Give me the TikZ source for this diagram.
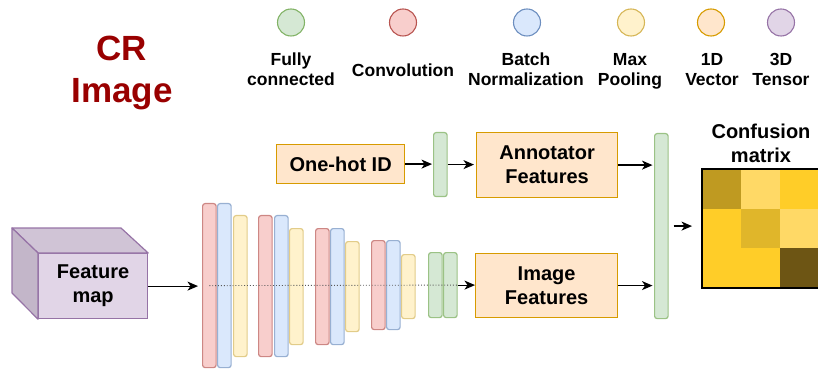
\documentclass[tikz,border=0pt]{standalone}
\usepackage{fontspec}
\setmainfont{Liberation Sans}
\usetikzlibrary{arrows.meta}

% layer palette
\definecolor{fcF}{HTML}{D5E8D4}\definecolor{fcS}{HTML}{82B366}
\definecolor{cvF}{HTML}{F8CECC}\definecolor{cvS}{HTML}{B85450}
\definecolor{bnF}{HTML}{DAE8FC}\definecolor{bnS}{HTML}{6C8EBF}
\definecolor{mpF}{HTML}{FFF2CC}\definecolor{mpS}{HTML}{D6B656}
\definecolor{vecF}{HTML}{FFE6CC}\definecolor{vecS}{HTML}{D79B00}
\definecolor{tenF}{HTML}{E1D5E7}\definecolor{tenS}{HTML}{9673A6}
\definecolor{tenTop}{HTML}{D0C4D6}\definecolor{tenSide}{HTML}{C3B6C9}
\definecolor{titleRed}{HTML}{990000}
% confusion matrix shades
\definecolor{cmA}{HTML}{BF9A21}
\definecolor{cmB}{HTML}{FFD966}
\definecolor{cmC}{HTML}{FFCD28}
\definecolor{cmD}{HTML}{E0B62A}
\definecolor{cmE}{HTML}{6D5514}

\tikzset{
  legdot/.style={circle, line width=1.1pt, minimum size=27pt, inner sep=0pt},
  legtxt/.style={font=\fontsize{17.5}{20}\selectfont\bfseries, align=center, inner sep=0pt},
  boxfont/.style={font=\fontsize{20}{24}\selectfont\bfseries, align=center},
  lay/.style={rounded corners=2.5pt, line width=1.2pt, inner sep=0pt,
              anchor=north west, minimum width=13.5pt},
  cvlay/.style={lay, fill=cvF, draw=cvS!70!white, minimum height=#1pt},
  bnlay/.style={lay, fill=bnF, draw=bnS!70!white, minimum height=#1pt},
  mplay/.style={lay, fill=mpF, draw=mpS!70!white, minimum height=#1pt},
  fclay/.style={lay, fill=fcF, draw=fcS!80!white, minimum height=#1pt},
  vecbox/.style={boxfont, draw=vecS, fill=vecF, line width=1.2pt, inner sep=0pt,
                 anchor=north west},
  conn/.style={line width=1.2pt, -{Stealth[length=10.5pt, width=9pt, inset=3pt]}},
}

\begin{document}
\begin{tikzpicture}[x=1pt, y=-1pt]
\useasboundingbox (0,0) rectangle (818,371);

% title
\node[font=\fontsize{35}{42}\selectfont\bfseries, text=titleRed, align=center, inner sep=0pt]
  (title) at (122,73.2) {CR\\Image};

% legend
\node[legdot, draw=fcS, fill=fcF]   (lfc) at (291,22.5) {};
\node[legdot, draw=cvS, fill=cvF]   (lcv) at (403,22.5) {};
\node[legdot, draw=bnS, fill=bnF]   (lbn) at (527,22.5) {};
\node[legdot, draw=mpS, fill=mpF]   (lmp) at (631,22.5) {};
\node[legdot, draw=vecS, fill=vecF] (lvec) at (711,22.5) {};
\node[legdot, draw=tenS, fill=tenF] (lten) at (781,22.5) {};
\node[legtxt] (tfc)  at (291,69.5) {Fully\\connected};
\node[legtxt] (tcv)  at (403,70.3) {Convolution};
\node[legtxt] (tbn)  at (526,69.5) {Batch\\Normalization};
\node[legtxt] (tmp)  at (630,71.3) {Max\\Pooling};
\node[legtxt] (tvec) at (712,69.5) {1D\\Vector};
\node[legtxt] (tten) at (781,69.5) {3D\\Tensor};

% feature map cube
\node[boxfont, draw=tenS, fill=tenF, line width=1.2pt, inner sep=0pt, anchor=north west,
      minimum width=109pt, minimum height=65pt] (fmap) at (38,253) {Feature\\map};
\filldraw[fill=tenTop, draw=tenS, line width=1.2pt, line join=round]
  (fmap.north west) -- ++(-26,-25) -- ++(109,0) -- (fmap.north east) -- cycle;
\filldraw[fill=tenSide, draw=tenS, line width=1.2pt, line join=round]
  (fmap.north west) -- ++(-26,-25) -- ++(0,65) -- (fmap.south west) -- cycle;

% convolutional stack
\node[cvlay=164] (cv1) at (202,203) {};
\node[bnlay=164] (bn1) at (217,203) {};
\node[mplay=141] (mp1) at (233,215) {};
\node[cvlay=141] (cv2) at (258,215) {};
\node[bnlay=141] (bn2) at (274,215) {};
\node[mplay=116] (mp2) at (289,228) {};
\node[cvlay=116] (cv3) at (315,228) {};
\node[bnlay=116] (bn3) at (330,228) {};
\node[mplay=90]  (mp3) at (345,241) {};
\node[cvlay=89]  (cv4) at (371,240) {};
\node[bnlay=89]  (bn4) at (386,240) {};
\node[mplay=64]  (mp4) at (401,254) {};
\node[fclay=65]  (fc1) at (428,252) {};
\node[fclay=65]  (fc2) at (443,252) {};

% annotator branch
\node[vecbox, minimum width=128pt, minimum height=39pt] (onehot) at (276,144) {One-hot ID};
\node[fclay=64] (fc0) at (433,132) {};
\node[vecbox, minimum width=141pt, minimum height=65pt] (annot) at (476,132) {Annotator\\Features};
\node[vecbox, minimum width=142pt, minimum height=64pt] (imgf) at (475,253) {Image\\Features};

% joint fully connected layer
\node[fclay=185] (fcj) at (654,133) {};

% confusion matrix
\node[boxfont, inner sep=0pt] (cmtitle) at (761,143.5) {Confusion\\matrix};
\node[anchor=north west, minimum width=117pt, minimum height=119pt, inner sep=0pt] (cm) at (702,169) {};
\fill[cmA] (702,169) rectangle (741,208.7);
\fill[cmB] (741,169) rectangle (780,208.7);
\fill[cmC] (780,169) rectangle (819,208.7);
\fill[cmC] (702,208.7) rectangle (741,248.3);
\fill[cmD] (741,208.7) rectangle (780,248.3);
\fill[cmB] (780,208.7) rectangle (819,248.3);
\fill[cmC] (702,248.3) rectangle (780,288);
\fill[cmE] (780,248.3) rectangle (819,288);
\draw[line width=2pt] (cm.north west) rectangle (cm.south east);

% connectors
\draw[conn, shorten >=4pt] (fmap.east) -- (fmap.east -| cv1.west);
\draw[dotted, line width=0.9pt, black!65] (cv1.center) -- (fc2.east);
\draw[conn] (fc2.east) -- (fc2.east -| imgf.west);
\draw[conn, shorten >=1pt] (onehot.east) -- (onehot.east -| fc0.west);
\draw[conn, shorten >=2pt] (fc0.east) -- (fc0.east -| annot.west);
\draw[conn, shorten >=1.5pt] (annot.east) -- (annot.east -| fcj.west);
\draw[conn, shorten >=1.5pt] (imgf.east) -- (imgf.east -| fcj.west);
\draw[conn, shorten <=5pt, shorten >=10pt] (fcj.east) -- (fcj.east -| cm.west);
\end{tikzpicture}
\end{document}
